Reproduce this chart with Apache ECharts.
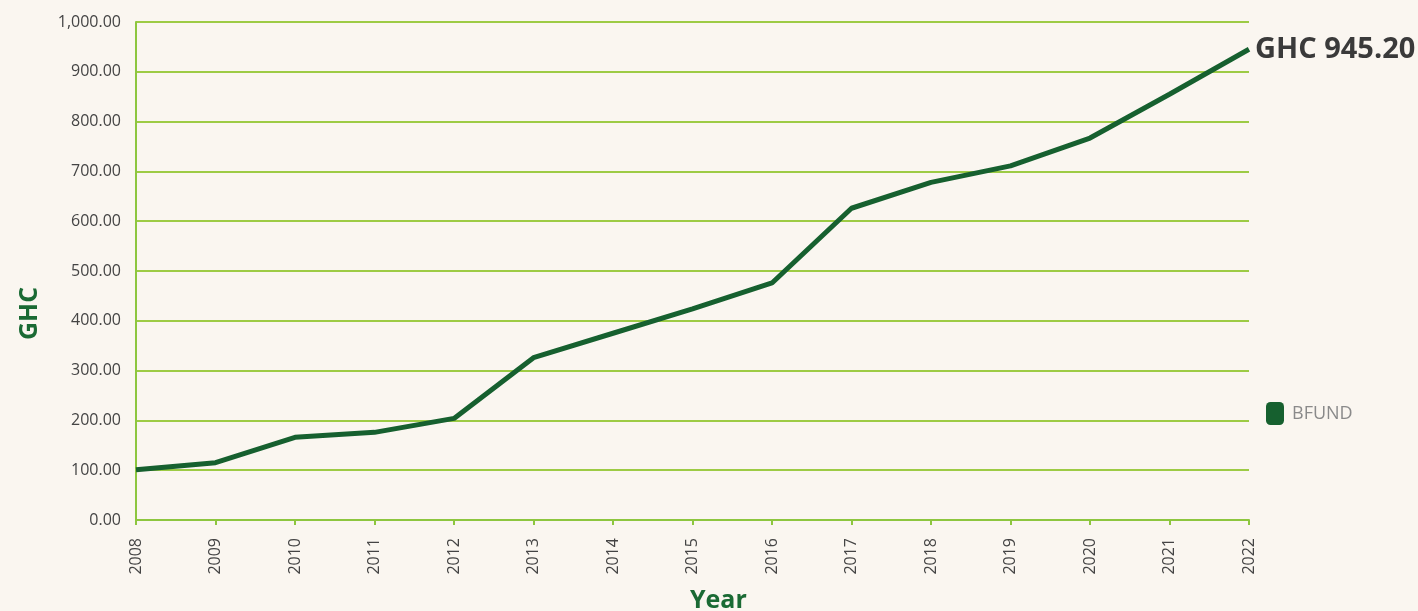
<!DOCTYPE html>
<html><head><meta charset="utf-8">
<script src="https://cdn.jsdelivr.net/npm/echarts@6/dist/echarts.min.js"></script>
<style>html,body{margin:0;padding:0;background:#faf6f0;}#c{width:1418px;height:611px;}</style>
</head><body><div id="c"></div>
<script>
const years = ['2008','2009','2010','2011','2012','2013','2014','2015','2016','2017','2018','2019','2020','2021','2022'];
const bfund = [101, 115, 166, 176, 204, 326, 375, 424, 476, 626, 678, 711, 767, 855, 945.2];
const seriesName = 'BFUND';
const endLabel = 'GHC 945.20';
const xName = 'Year';
const yName = 'GHC';

const chart = echarts.init(document.getElementById('c'));
const font = '"Open Sans", "Noto Sans", sans-serif';
chart.setOption({
  backgroundColor: '#faf6f0',
  textStyle: { fontFamily: font },
  animation: false,
  grid: { left: 136, right: 169, top: 22, bottom: 91, outerBoundsMode: 'none', containLabel: false },
  legend: {
    data: [{ name: seriesName, icon: 'roundRect' }],
    orient: 'vertical', left: 1261, top: 397,
    itemWidth: 18, itemHeight: 23, itemGap: 10,
    textStyle: { color: '#8a8a8a', fontSize: 18, fontFamily: font, padding: [0, 0, 0, 3] }
  },
  graphic: [
    { type: 'text', left: 690, top: 588, style: { text: xName, fill: '#1a6a34', font: 'bold 25px ' + font } },
    { type: 'text', x: 17, y: 340, rotation: Math.PI / 2, style: { text: yName, fill: '#1a6a34', font: 'bold 25px ' + font } }
  ],
  xAxis: {
    type: 'category', data: years, boundaryGap: false,
    axisLine: { lineStyle: { color: '#8dc63f', width: 2 } },
    axisTick: { show: true, length: 5, alignWithLabel: true, lineStyle: { color: '#8dc63f', width: 2 } },
    axisLabel: { rotate: 90, color: '#444', fontSize: 16, margin: 18, fontFamily: font },
    splitLine: { show: false }
  },
  yAxis: {
    type: 'value', min: 0, max: 1000, interval: 100,
    axisLine: { show: true, lineStyle: { color: '#8dc63f', width: 2 } },
    axisTick: { show: false },
    axisLabel: {
      color: '#444', fontSize: 16, margin: 15, fontFamily: font,
      formatter: v => v.toLocaleString('en-US', { minimumFractionDigits: 2, maximumFractionDigits: 2 })
    },
    splitLine: { lineStyle: { color: '#9dcb45', width: 2 } }
  },
  series: [{
    name: seriesName, type: 'line', data: bfund,
    showSymbol: false, symbol: 'none',
    itemStyle: { color: '#16602f' },
    lineStyle: { color: '#16602f', width: 5 },
    endLabel: {
      show: true, formatter: endLabel, distance: 6,
      color: '#3a3a3a', fontSize: 29, fontWeight: 'bold', fontFamily: font
    }
  }]
});
</script></body></html>
